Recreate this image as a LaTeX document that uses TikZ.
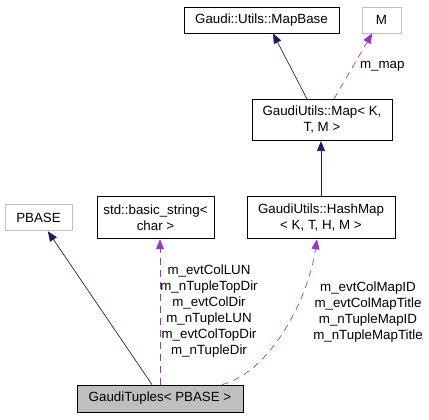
\documentclass[tikz,border=0pt]{standalone}
\usepackage{fontspec}
\setmainfont{Liberation Sans}
\usetikzlibrary{arrows.meta}
\definecolor{inhblue}{HTML}{191970}
\definecolor{usepurple}{HTML}{9A32CD}
\definecolor{boxgray}{HTML}{BFBFBF}

\begin{document}
\begin{tikzpicture}[x=0.75pt,y=-0.75pt,
  cls/.style={draw=black,line width=0.6pt,inner sep=0pt,align=center,font=\fontsize{10}{12}\selectfont},
  ext/.style={cls,draw=boxgray},
  inh/.style={draw=inhblue,line width=0.5pt,-{Triangle[length=7.5pt,width=6pt]}},
  use/.style={draw=usepurple,line width=0.5pt,dash pattern=on 5pt off 4pt,-{Triangle[length=7.5pt,width=6pt]}},
  lbl/.style={align=center,inner sep=0pt,font=\fontsize{10}{12}\selectfont}]
\useasboundingbox (0,0) rectangle (429,419);
% classes
\node[cls,minimum width=116.25pt,minimum height=19.5pt] (mapbase) at (261.5,20) {Gaudi::Utils::MapBase};
\node[ext,minimum width=29.25pt,minimum height=19.5pt] (m) at (381.5,20) {M};
\node[cls,minimum width=105pt,minimum height=31pt] (map) at (322,120) {GaudiUtils::Map\textless{} K,\\T, M \textgreater};
\node[ext,minimum width=50.25pt,minimum height=20pt] (pbase) at (38.5,217.5) {PBASE};
\node[cls,minimum width=87.75pt,minimum height=32pt] (bstr) at (155.5,217.5) {std::basic\_string\textless\\char \textgreater};
\node[cls,minimum width=111pt,minimum height=32pt] (hashmap) at (321,217.5) {GaudiUtils::HashMap\\\textless{} K, T, H, M \textgreater};
\node[cls,fill=boxgray,minimum width=124.5pt,minimum height=20.25pt] (tuples) at (160,398.5) {GaudiTuples\textless{} PBASE \textgreater};
% inheritance
\draw[inh] ([xshift=-11.25pt]map.north) -- ([xshift=8.6pt]mapbase.south);
\draw[inh] (hashmap.north) -- (hashmap.north |- map.south);
\draw[inh] ([xshift=-6pt]tuples.north) -- ([xshift=7pt]pbase.south);
% members
\draw[use] ([xshift=9pt]map.north) -- ([xshift=-7pt]m.south)
  node[midway,right=5pt,lbl] {m\_map};
\draw[use] (tuples.north) -- (tuples.north |- bstr.south);
\draw[use] ([xshift=46.5pt]tuples.north) .. controls (270,372) and (308,300) .. ([xshift=-3pt]hashmap.south);
\node[lbl] (bstrlbl) at (209,311) {m\_evtColLUN\\m\_nTupleTopDir\\m\_evtColDir\\m\_nTupleLUN\\m\_evtColTopDir\\m\_nTupleDir};
\node[lbl] (hashlbl) at (368,312) {m\_evtColMapID\\m\_evtColMapTitle\\m\_nTupleMapID\\m\_nTupleMapTitle};
\end{tikzpicture}
\end{document}
